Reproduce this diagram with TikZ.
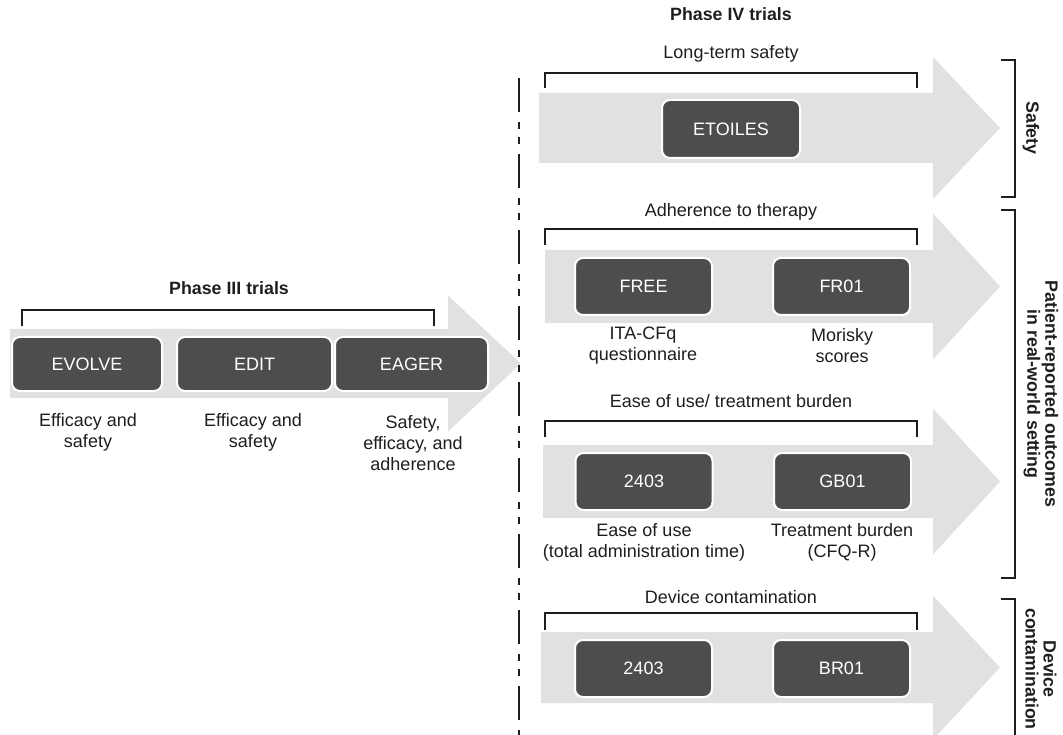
\documentclass[tikz,border=0pt]{standalone}
\usepackage{fontspec}
\setmainfont{Liberation Sans}
\definecolor{arrowgray}{RGB}{224,225,227}
\definecolor{boxgray}{RGB}{77,77,79}
\definecolor{ink}{RGB}{30,30,30}
\begin{document}
\begin{tikzpicture}[x=1pt,y=-1pt,
  fatarrow/.style={fill=arrowgray, draw=none},
  trial/.style={fill=boxgray, draw=white, line width=2pt, rounded corners=8pt, text=white,
    font=\fontsize{18}{21}\selectfont, inner sep=0pt},
  lbl/.style={text=ink, font=\fontsize{18}{21}\selectfont, align=center, inner sep=0pt},
  ttl/.style={text=ink, font=\bfseries\fontsize{17.8}{21}\selectfont, inner sep=0pt},
  side/.style={text=ink, font=\bfseries\fontsize{17.8}{18}\selectfont, align=center, inner sep=0pt, rotate=-90},
  brk/.style={draw=ink, line width=2.4pt},
  divider/.style={draw=ink, line width=2.6pt, dash pattern=on 34pt off 10pt on 7pt off 8pt on 7pt off 10pt}
]
\useasboundingbox (0,0) rectangle (1063,735);

% ---- big arrows ----
\fill[fatarrow] (10,329) -- (448,329) -- (448,295.5) -- (521,363.5) -- (448,431.5) -- (448,398) -- (10,398) -- cycle;
\fill[fatarrow] (539,93) -- (933,93) -- (933,57) -- (1000,128) -- (933,199) -- (933,163) -- (539,163) -- cycle;
\fill[fatarrow] (545,250) -- (933,250) -- (933,213.5) -- (1000,286.5) -- (933,359.5) -- (933,323) -- (545,323) -- cycle;
\fill[fatarrow] (543,445) -- (933,445) -- (933,408.5) -- (1000,481.5) -- (933,554.5) -- (933,518) -- (543,518) -- cycle;
\fill[fatarrow] (541,632) -- (933,632) -- (933,595.5) -- (1000,667.5) -- (933,739.5) -- (933,703) -- (541,703) -- cycle;

% ---- trial boxes ----
\node[trial, minimum width=150pt, minimum height=54pt] (evolve) at (87,364) {EVOLVE};
\node[trial, minimum width=155pt, minimum height=54pt] (edit) at (254.5,364) {EDIT};
\node[trial, minimum width=153pt, minimum height=54pt] (eager) at (411.5,364) {EAGER};

\node[trial, minimum width=138pt, minimum height=58pt] (etoiles) at (731,129) {ETOILES};
\node[trial, minimum width=137pt, minimum height=57pt] (free) at (643.5,286.5) {FREE};
\node[trial, minimum width=137pt, minimum height=57pt] (fr01) at (841.5,286.5) {FR01};
\node[trial, minimum width=137pt, minimum height=57pt] (easeA) at (644,481.5) {2403};
\node[trial, minimum width=137pt, minimum height=57pt] (gb01) at (842.5,481.5) {GB01};
\node[trial, minimum width=137pt, minimum height=57pt] (contA) at (643.5,668.5) {2403};
\node[trial, minimum width=137pt, minimum height=57pt] (br01) at (841.5,668.5) {BR01};

% ---- brackets ----
\draw[brk] (22,326) -- (22,310) -- (434,310) -- (434,326);
\draw[brk] (545,88) -- (545,73) -- (917,73) -- (917,88);
\draw[brk] (545,245) -- (545,229) -- (917,229) -- (917,245);
\draw[brk] (545,437) -- (545,421) -- (917,421) -- (917,437);
\draw[brk] (545,630) -- (545,613) -- (917,613) -- (917,630);

\draw[brk] (1001,60) -- (1015,60) -- (1015,197) -- (1001,197);
\draw[brk] (1001,210) -- (1015,210) -- (1015,578) -- (1001,578);
\draw[brk] (1001,599) -- (1015,599) -- (1015,745);

% ---- titles and labels ----
\node[ttl] (p3) at (229,288) {Phase III trials};
\node[ttl] (p4) at (731,14) {Phase IV trials};

\node[lbl] (lEvolve) at (88,432.5) {Efficacy and\\safety};
\node[lbl] (lEdit) at (253,432.5) {Efficacy and\\safety};
\node[lbl] (lEager) at (413,443) {Safety,\\efficacy, and\\adherence};

\node[lbl] (gSafety) at (731,54) {Long-term safety};
\node[lbl] (gAdh) at (731,212) {Adherence to therapy};
\node[lbl] (gEase) at (731,401) {Ease of use/ treatment burden};
\node[lbl] (gDev) at (731,597) {Device contamination};

\node[lbl] (lFree) at (643,346) {ITA-CFq\\questionnaire};
\node[lbl] (lFr) at (842,346) {Morisky\\scores};
\node[lbl] (lEase) at (644,542.5) {Ease of use\\(total administration time)};
\node[lbl] (lGb) at (842,542.5) {Treatment burden\\(CFQ-R)};

\node[side] (sSafety) at (1031,128) {Safety};
\node[side] (sPro) at (1041,394) {Patient-reported outcomes\\in real-world setting};
\node[side] (sDev) at (1041,669) {Device\\contamination};

% ---- divider ----
\draw[divider] (519,78) -- (519,745);
\end{tikzpicture}
\end{document}
